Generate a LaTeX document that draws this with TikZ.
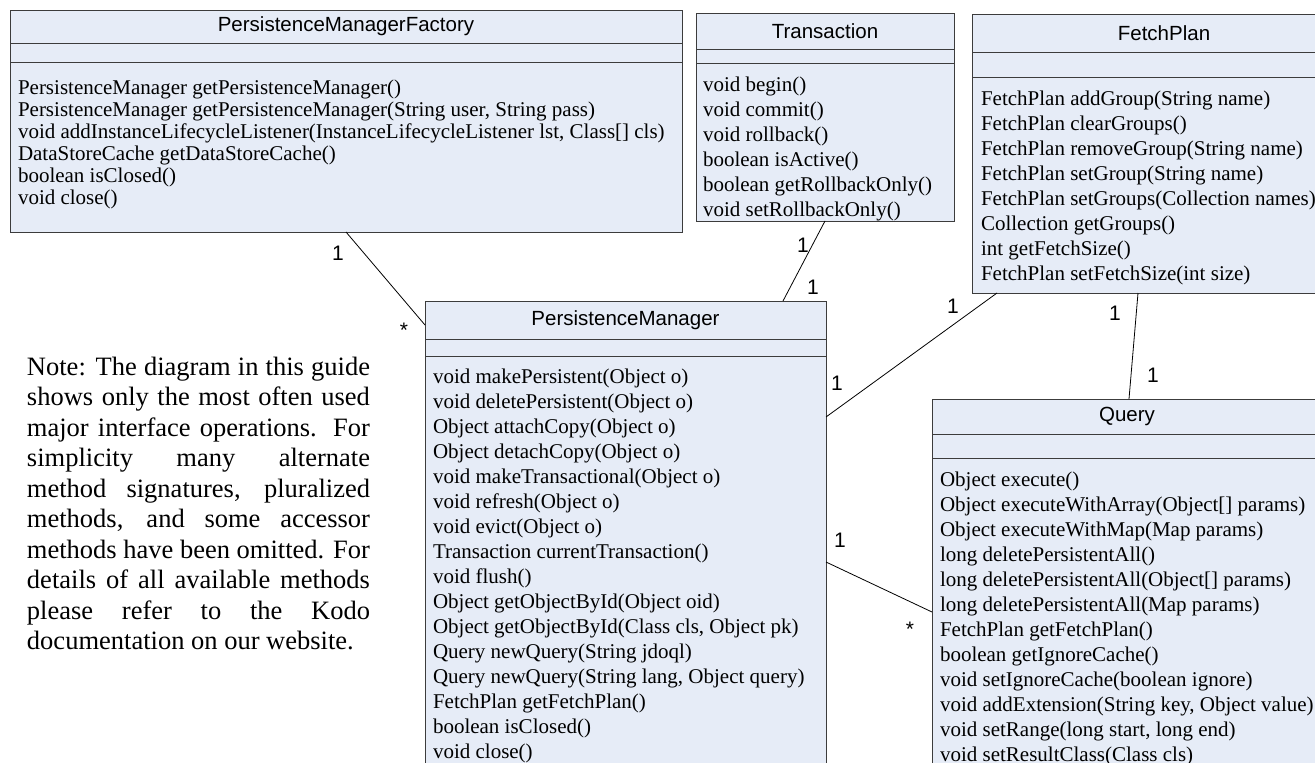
\documentclass[tikz,border=0pt]{standalone}
\usepackage{fontspec}
\setmainfont{Liberation Serif}
\newfontfamily\umlsans{Liberation Sans}
\usetikzlibrary{calc}

\definecolor{classfill}{RGB}{230,236,247}
\definecolor{classline}{RGB}{60,60,60}

% fonts for the class boxes, multiplicities and the side note
\newcommand\umlops{\fontsize{21}{25}\selectfont}
\newcommand\umlopstight{\fontsize{21}{22}\selectfont}
\newcommand\umltitle{\umlsans\fontsize{20.5}{24}\selectfont}
\newcommand\umlmult{\umlsans\fontsize{21}{24}\selectfont}
\newcommand\umlnote{\fontsize{26.5}{30.5}\selectfont}
% a stack of operation lines, aligned on the first baseline
\newcommand\oplines[1]{\begin{tabular}[t]{@{}l@{}}#1\end{tabular}}
% one fully justified line of the note
\newcommand\jline[1]{\hbox to 343pt{#1}}

\tikzset{
  compartment/.style={draw=classline, fill=classfill, line width=1pt,
    inner sep=0pt, outer sep=0pt, anchor=north west, font=\umltitle},
  oplist/.style={inner sep=0pt, outer sep=0pt, anchor=base west, font=\umlops},
  mult/.style={inner sep=0pt, font=\umlmult},
  assoc/.style={draw=black, line width=0.8pt},
  notetext/.style={inner sep=0pt, outer sep=0pt, anchor=base west, font=\umlnote},
}

\begin{document}
\begin{tikzpicture}[x=1pt,y=-1pt]
\useasboundingbox (0,0) rectangle (1315,763);

% ---------- PersistenceManagerFactory ----------
\node[compartment, minimum width=672pt, minimum height=33pt] (pmf-t) at (10,10) {PersistenceManagerFactory};
\node[compartment, minimum width=672pt, minimum height=19pt] (pmf-a) at (pmf-t.south west) {};
\node[compartment, minimum width=672pt, minimum height=170pt] (pmf-o) at (pmf-a.south west) {};
\node[oplist, font=\umlopstight] (pmf-m) at (18,94) {\oplines{%
PersistenceManager getPersistenceManager()\\
PersistenceManager getPersistenceManager(String user, String pass)\\
void addInstanceLifecycleListener(InstanceLifecycleListener lst, Class[] cls)\\
DataStoreCache getDataStoreCache()\\
boolean isClosed()\\
void close()}};

% ---------- Transaction ----------
\node[compartment, minimum width=258pt, minimum height=36pt] (tr-t) at (696,13) {Transaction};
\node[compartment, minimum width=258pt, minimum height=14pt] (tr-a) at (tr-t.south west) {};
\node[compartment, minimum width=258pt, minimum height=158pt] (tr-o) at (tr-a.south west) {};
\node[oplist] (tr-m) at (703,91) {\oplines{%
void begin()\\
void commit()\\
void rollback()\\
boolean isActive()\\
boolean getRollbackOnly()\\
void setRollbackOnly()}};

% ---------- FetchPlan ----------
\node[compartment, minimum width=384pt, minimum height=38pt] (fp-t) at (972,14) {FetchPlan};
\node[compartment, minimum width=384pt, minimum height=25pt] (fp-a) at (fp-t.south west) {};
\node[compartment, minimum width=384pt, minimum height=216pt] (fp-o) at (fp-a.south west) {};
\node[oplist] (fp-m) at (981,105) {\oplines{%
FetchPlan addGroup(String name)\\
FetchPlan clearGroups()\\
FetchPlan removeGroup(String name)\\
FetchPlan setGroup(String name)\\
FetchPlan setGroups(Collection names)\\
Collection getGroups()\\
int getFetchSize()\\
FetchPlan setFetchSize(int size)}};

% ---------- PersistenceManager ----------
\node[compartment, minimum width=401pt, minimum height=38pt] (pm-t) at (425,301) {PersistenceManager};
\node[compartment, minimum width=401pt, minimum height=17pt] (pm-a) at (pm-t.south west) {};
\node[compartment, minimum width=401pt, minimum height=414pt] (pm-o) at (pm-a.south west) {};
\node[oplist] (pm-m) at (433,383) {\oplines{%
void makePersistent(Object o)\\
void deletePersistent(Object o)\\
Object attachCopy(Object o)\\
Object detachCopy(Object o)\\
void makeTransactional(Object o)\\
void refresh(Object o)\\
void evict(Object o)\\
Transaction currentTransaction()\\
void flush()\\
Object getObjectById(Object oid)\\
Object getObjectById(Class cls, Object pk)\\
Query newQuery(String jdoql)\\
Query newQuery(String lang, Object query)\\
FetchPlan getFetchPlan()\\
boolean isClosed()\\
void close()}};

% ---------- Query ----------
\node[compartment, minimum width=390pt, minimum height=35pt] (q-t) at (932,399) {Query};
\node[compartment, minimum width=390pt, minimum height=24pt] (q-a) at (q-t.south west) {};
\node[compartment, minimum width=390pt, minimum height=312pt] (q-o) at (q-a.south west) {};
\node[oplist] (q-m) at (940,486) {\oplines{%
Object execute()\\
Object executeWithArray(Object[] params)\\
Object executeWithMap(Map params)\\
long deletePersistentAll()\\
long deletePersistentAll(Object[] params)\\
long deletePersistentAll(Map params)\\
FetchPlan getFetchPlan()\\
boolean getIgnoreCache()\\
void setIgnoreCache(boolean ignore)\\
void addExtension(String key, Object value)\\
void setRange(long start, long end)\\
void setResultClass(Class cls)}};

% ---------- associations ----------
\draw[assoc] (pmf-o.south) -- ([yshift=-5pt]pm-t.west);
\draw[assoc] (tr-o.south) -- ([xshift=358pt]pm-t.north west);
\draw[assoc] ([xshift=25pt]fp-o.south west) -- ([yshift=-61pt]pm-o.north east);
\draw[assoc] ([xshift=166pt]fp-o.south west) -- ([xshift=197pt]q-t.north west);
\draw[assoc] ([yshift=-206pt]pm-o.north east) -- ([yshift=-154pt]q-o.north west);

% ---------- multiplicities ----------
\node[mult] (m-pmf) at (338,253) {1};
\node[mult] (m-pm1) at (404,330) {*};
\node[mult] (m-tr) at (803,245) {1};
\node[mult] (m-pm2) at (813,287) {1};
\node[mult] (m-fp1) at (953,306) {1};
\node[mult] (m-pm3) at (837,383) {1};
\node[mult] (m-fp2) at (1115,313) {1};
\node[mult] (m-q1) at (1153,375) {1};
\node[mult] (m-pm4) at (840,540) {1};
\node[mult] (m-q2) at (910,629) {*};

% ---------- side note ----------
\node[notetext] (note) at (27,375) {\begin{tabular}[t]{@{}l@{}}%
\jline{Note: The diagram in this guide}\\
\jline{shows only the most often used}\\
\jline{major interface operations. For}\\
\jline{simplicity many alternate}\\
\jline{method signatures, pluralized}\\
\jline{methods, and some accessor}\\
\jline{methods have been omitted. For}\\
\jline{details of all available methods}\\
\jline{please refer to the Kodo}\\
documentation on our website.\end{tabular}};

\end{tikzpicture}
\end{document}
